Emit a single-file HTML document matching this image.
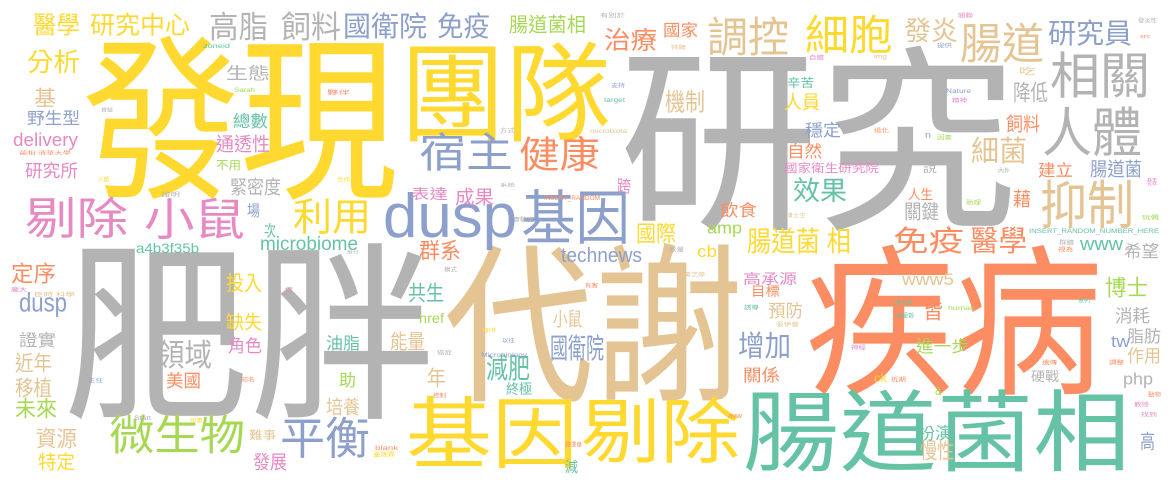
<!DOCTYPE html>
<html><head><meta charset="utf-8">
<style>
html,body{margin:0;padding:0;background:#fff;}
svg{display:block;}
text{font-family:"Liberation Sans","Noto Sans CJK TC","Noto Sans CJK SC",sans-serif;}
</style></head>
<body>
<svg id="cloud" width="1175" height="482" viewBox="0 0 1175 482" xmlns="http://www.w3.org/2000/svg">
<rect width="1175" height="482" fill="#ffffff"/>
</svg>
<script>
const palette = {t:"#66c2a5",o:"#fc8d62",b:"#8da0cb",p:"#e78ac3",g:"#a6d854",y:"#ffd92f",n:"#e5c494",r:"#b3b3b3"};
// [word, colour, x0, y0, x1, y1, type]  type: c=CJK, l=latin asc, d=latin asc+desc, x=x-height, q=x-height+desc
const words = [
["發現","y",82,37,398,197,"c"],["團隊","y",400,43,611,140,"c"],
["研究","r",619,48,1017,228,"c"],["肥胖","r",63,245,436,417,"c"],
["代謝","n",444,245,743,400,"c"],["疾病","o",805,247,1103,393,"c"],
["腸道菌相","t",743,390,1130,470,"c"],["基因","y",406,397,578,467,"c"],
["剔除","y",581,398,740,462,"c"],["微生物","g",109,415,245,453,"c"],
["平衡","b",280,417,370,457,"c"],["宿主","b",419,133,513,170,"c"],
["健康","o",519,137,600,170,"c"],["剔除","p",25,197,128,237,"c"],
["小鼠","p",144,198,245,238,"c"],["利用","y",293,198,371,233,"c"],
["dusp","b",383,192,517,250,"d"],["基因","b",521,190,630,243,"c"],
["醫學","y",33,13,80,35,"c"],["研究中心","y",90,13,190,35,"c"],
["高脂","r",209,12,268,40,"c"],["飼料","r",281,12,341,40,"c"],
["國衛院","b",343,13,427,38,"c"],["免疫","b",437,13,490,38,"c"],
["腸道菌相","g",509,15,586,33,"c"],["分析","y",27,50,80,73,"c"],
["生態","r",226,65,270,80,"c"],["基","n",34,88,56,107,"c"],
["野生型","b",27,110,80,125,"c"],["總數","t",233,113,268,128,"c"],
["delivery","p",13,133,78,150,"d"],["通透性","p",216,135,270,152,"c"],
["研究所","p",25,162,78,178,"c"],["不用","g",216,160,241,170,"c"],
["緊密度","r",230,178,281,195,"c"],["表達","p",411,187,448,200,"c"],
["成果","p",455,188,494,205,"c"],["場","b",247,203,260,217,"c"],
["次","t",264,223,276,237,"c"],["microbiome","t",260,236,358,250,"l"],
["a4b3f35b","t",136,243,199,253,"l"],["群系","o",419,240,461,260,"c"],
["治療","o",604,28,657,50,"c"],["國家","o",663,22,698,37,"c"],
["調控","n",707,17,789,55,"c"],["細胞","y",805,15,893,53,"c"],
["發炎","n",904,18,958,42,"c"],["腸道","n",960,23,1044,62,"c"],
["研究員","b",1048,20,1132,45,"c"],["相關","r",1050,52,1150,97,"c"],
["吃","n",1019,67,1035,75,"c"],["辛苦","t",787,77,814,88,"c"],
["降低","r",1013,82,1048,102,"c"],["機制","n",665,90,705,112,"c"],
["人員","y",784,93,820,110,"c"],["人體","r",1042,107,1142,155,"c"],
["飼料","o",1006,115,1040,132,"c"],["穩定","b",805,122,841,137,"c"],
["細菌","n",971,137,1027,163,"c"],["自然","o",787,143,822,158,"c"],
["國家衛生研究院","p",784,163,879,173,"c"],["說","r",923,163,937,173,"c"],
["建立","o",1038,162,1073,177,"c"],["腸道菌","b",1090,160,1142,177,"c"],
["跨","p",617,178,631,193,"c"],["效果","t",793,178,847,202,"c"],
["人生","o",908,188,933,200,"c"],["抑制","n",1040,180,1134,227,"c"],
["藉","o",1013,190,1031,207,"c"],["飲食","o",720,202,757,217,"c"],
["關鍵","r",904,202,939,220,"c"],["國際","y",636,223,676,243,"c"],
["amp","g",707,225,742,237,"q"],["腸道菌 相","y",747,228,851,253,"c"],
["免疫","o",893,227,964,253,"c"],["醫學","o",970,227,1027,253,"c"],
["www","t",1080,240,1123,250,"x"],["希望","r",1124,243,1159,258,"c"],
["cb","y",697,245,717,257,"l"],["technews","b",561,247,642,262,"l"],
["定序","o",11,263,56,283,"c"],["投入","y",226,273,262,292,"c"],
["共生","t",408,283,444,302,"c"],["dusp","b",19,292,67,317,"d"],
["缺失","y",226,313,262,330,"c"],["href","g",419,313,444,323,"l"],
["小鼠","n",553,310,582,327,"c"],["證實","r",19,332,56,347,"c"],
["油脂","t",326,335,360,350,"c"],["能量","n",390,332,425,350,"c"],
["角色","p",228,337,262,353,"c"],["國衛院","b",550,335,604,360,"c"],
["領域","r",157,340,212,368,"c"],["近年","n",15,353,52,372,"c"],
["減肥","t",486,355,530,380,"c"],["美國","o",166,372,201,388,"c"],
["助","g",339,372,356,387,"c"],["年","n",427,368,446,387,"c"],
["移植","n",15,378,52,397,"c"],["終極","t",506,382,532,395,"c"],
["未來","g",15,398,57,418,"c"],["培養","n",326,398,360,415,"c"],
["資源","n",36,428,77,448,"c"],["難事","n",249,430,276,440,"c"],
["特定","y",38,453,75,470,"c"],["發展","p",253,453,287,470,"c"],
["減","t",565,460,578,473,"c"],["高承源","p",743,272,797,285,"c"],
["目標","o",751,285,780,297,"c"],["www5","n",902,273,954,285,"l"],
["博士","g",1105,277,1148,297,"c"],["預防","n",768,302,803,318,"c"],
["皆","o",923,300,943,320,"c"],["消耗","r",1115,307,1150,323,"c"],
["增加","b",738,332,791,358,"c"],["進一步","g",916,338,969,353,"c"],
["脂肪","r",1127,328,1161,343,"c"],["tw","b",1111,335,1130,347,"l"],
["作用","n",1127,347,1161,363,"c"],["關係","o",743,367,780,382,"c"],
["硬戰","r",1031,370,1059,382,"c"],["php","r",1123,372,1153,388,"d"],
["ck","y",874,373,887,382,"l"],["a","g",935,387,941,395,"x"],
["扮演","t",918,425,952,440,"c"],["慢性","n",920,440,954,460,"c"],
["高","b",1140,432,1155,450,"c"],["n","b",925,133,931,138,"x"],
["zoneid","t",203,43,230,48,"l"],["Sarah","g",234,87,255,92,"l"],
["夥伴","o",327,90,350,95,"c"],["實驗","r",101,108,113,112,"c"],
["菌相 清華大學","o",19,151,71,155,"c"],["人類","y",98,177,109,182,"c"],
["合作","y",337,177,350,182,"c"],["證明","r",161,192,180,197,"c"],
["方式","r",500,128,515,133,"c"],["系統","r",500,183,515,187,"c"],
["INSERT_RANDOM","o",544,195,600,200,"l"],["實驗室","r",513,217,534,222,"c"],
["有別於","r",600,13,625,18,"c"],["關聯","p",958,13,973,18,"c"],
["發炎性","r",1138,18,1157,23,"c"],["src","o",1140,35,1150,38,"x"],
["特聘","n",671,45,686,50,"c"],["提供","b",937,43,952,48,"c"],
["自體","p",809,55,824,60,"c"],["img","n",874,55,887,60,"q"],
["支持","b",611,83,625,88,"c"],["target","t",604,97,625,102,"l"],
["Nature","b",946,88,971,93,"l"],["精神","p",952,98,967,103,"c"],
["microbiota","n",590,128,627,133,"l"],["退化","o",874,128,889,133,"c"],
["因素","g",937,135,952,140,"c"],["內外","r",998,168,1010,173,"c"],
["發表","p",1147,178,1157,185,"c"],["助理","g",966,200,981,205,"c"],
["博士生","n",786,213,806,218,"c"],["玩偶","g",1142,215,1159,220,"c"],
["INSERT_RANDOM_NUMBER_HERE","t",1029,228,1159,233,"l"],
["期刊","r",347,250,358,254,"c"],["模式","r",444,267,457,272,"c"],
["龐大","p",11,287,27,292,"c"],["臣時 科學","n",34,292,75,297,"c"],
["倍","p",285,287,293,292,"c"],["gut","y",483,328,496,333,"q"],
["以往","b",502,338,515,343,"c"],["Microbiology","b",481,352,527,357,"l"],
["癌症","r",437,350,452,355,"c"],["主任","b",88,378,103,383,"c"],
["知名","o",241,377,255,382,"c"],["控制","o",433,393,446,398,"c"],
["Statt","r",134,415,151,420,"l"],["印象","y",190,418,203,423,"c"],
["blank","o",375,445,398,450,"l"],["臺灣霖","y",373,452,395,457,"c"],
["譚澤華","o",565,442,582,447,"c"],["數量","r",669,247,684,252,"c"],
["黃芝婷","n",684,272,705,277,"c"],["有害","o",585,283,598,288,"c"],
["誘導","t",744,305,759,310,"c"],["張伊華","n",776,322,799,327,"c"],
["廖玉潔","t",895,300,912,305,"c"],["郭星穀","t",897,313,914,318,"c"],
["human","g",948,305,975,310,"l"],["系列","t",1078,298,1090,303,"c"],
["神經","p",851,345,866,350,"c"],["遺傳","o",1042,360,1057,365,"c"],
["調整","o",1109,360,1124,365,"c"],["近期","o",891,377,906,382,"c"],
["動物","o",1148,392,1161,397,"c"],["教授","p",1134,402,1149,407,"c"],
["找到","p",1141,412,1157,417,"c"],["avw","o",728,414,742,418,"x"],
["群體","r",1059,240,1074,245,"c"],["視為","o",1058,247,1073,252,"c"]
];
const svgNS = "http://www.w3.org/2000/svg";
const svg = document.getElementById("cloud");
function metrics(type, h, y1){
  let fs, base;
  if(type==="c"){ fs=h/0.90; base=y1-0.07*fs; }
  else if(type==="d"){ fs=h/0.94; base=y1-0.21*fs; }
  else if(type==="l"){ fs=h/0.73; base=y1; }
  else if(type==="x"){ fs=h/0.53; base=y1; }
  else { fs=h/0.74; base=y1-0.21*fs; }
  return [fs, base];
}
words.forEach(function(w, i){
  const h = w[5]-w[3];
  const m = metrics(w[6], h, w[5]);
  const t = document.createElementNS(svgNS, "text");
  t.setAttribute("x", w[2]);
  t.setAttribute("y", m[1].toFixed(1));
  t.setAttribute("font-size", m[0].toFixed(1));
  t.setAttribute("fill", palette[w[1]]);
  t.setAttribute("textLength", w[4]-w[2]);
  t.setAttribute("lengthAdjust", "spacingAndGlyphs");
  
  
  t.textContent = w[0];
  svg.appendChild(t);
});
</script>
</body></html>
